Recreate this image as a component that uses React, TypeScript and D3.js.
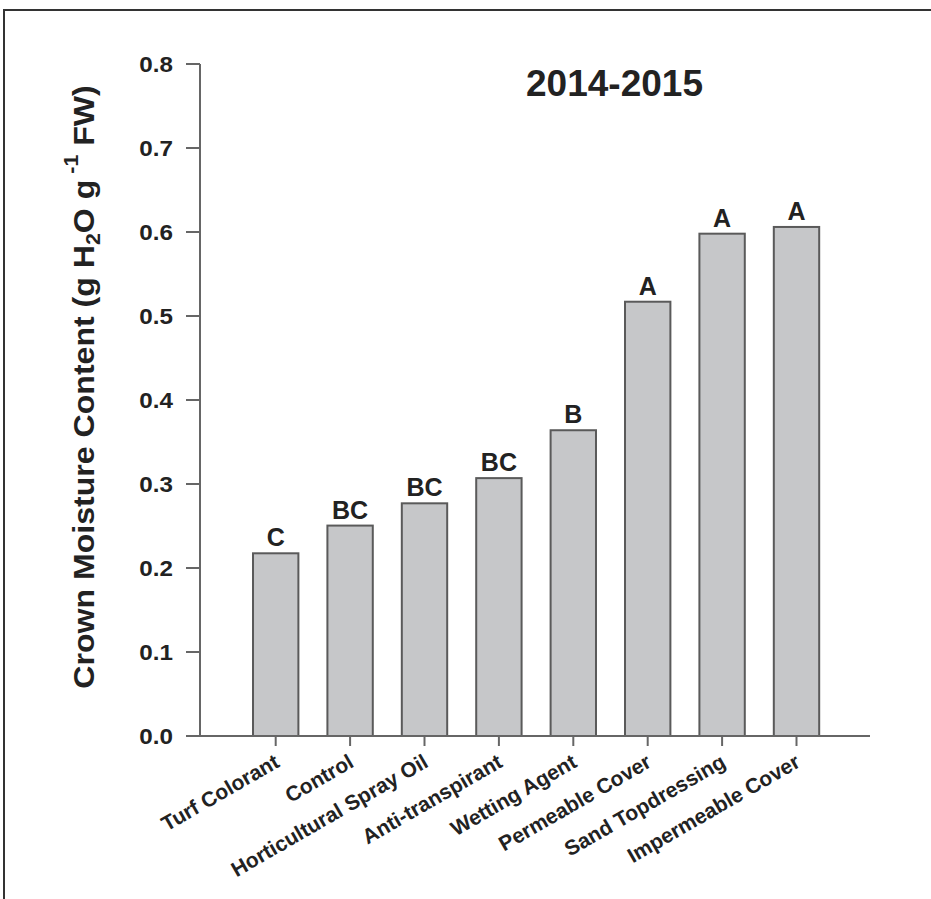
import React from "react";
import * as d3 from "d3";

const categories = [
  "Turf Colorant",
  "Control",
  "Horticultural Spray Oil",
  "Anti-transpirant",
  "Wetting Agent",
  "Permeable Cover",
  "Sand Topdressing",
  "Impermeable Cover",
];
const values = [0.2175, 0.2505, 0.277, 0.307, 0.364, 0.517, 0.598, 0.606];
const letters = ["C", "BC", "BC", "BC", "B", "A", "A", "A"];
const yTicks = [0.0, 0.1, 0.2, 0.3, 0.4, 0.5, 0.6, 0.7, 0.8];
const title = "2014-2015";

const W = 931;
const H = 899;
const FONT = "'Liberation Sans', Arial, Helvetica, sans-serif";
const TEXT = "#222";
const AXIS = "#666";

export default function App() {
  const y = d3.scaleLinear().domain([0, 0.8]).range([736, 64]);
  const x = d3
    .scaleBand<string>()
    .domain(categories)
    .range([238.5, 238.5 + 74.4 * categories.length])
    .paddingInner(0.39)
    .paddingOuter(0.195);
  const bw = x.bandwidth();
  const axisLeft = 200;
  const axisRight = 870;

  return (
    <svg
      width={W}
      height={H}
      style={{ position: "absolute", left: 0, top: 0, background: "#fff" }}
      fontFamily={FONT}
    >
      <rect x={0} y={0} width={W} height={H} fill="#fff" />
      {/* frame */}
      <path d={`M4,${H + 5} L4,10 L${W + 5},10`} fill="none" stroke="#333" strokeWidth={2} />

      {/* title */}
      <text x={614.5} y={96} textAnchor="middle" fontSize={37} fontWeight="bold" fill={TEXT}>
        {title}
      </text>

      {/* bars */}
      {categories.map((c, i) => (
        <g key={c}>
          <rect
            x={x(c)!}
            y={y(values[i])}
            width={bw}
            height={y(0) - y(values[i])}
            fill="#c6c7c9"
            stroke="#5a5a5a"
            strokeWidth={2}
          />
          <text
            x={x(c)! + bw / 2}
            y={y(values[i]) - 7}
            textAnchor="middle"
            fontSize={25}
            fontWeight="bold"
            fill={TEXT}
          >
            {letters[i]}
          </text>
        </g>
      ))}

      {/* y axis */}
      <line x1={axisLeft} x2={axisLeft} y1={y(0.8)} y2={y(0)} stroke={AXIS} strokeWidth={2} />
      {yTicks.map((t) => (
        <g key={t}>
          <line x1={186} x2={axisLeft} y1={y(t)} y2={y(t)} stroke={AXIS} strokeWidth={2} />
          <text
            transform={`translate(173,${y(t)}) scale(1.1,1)`}
            dy="0.36em"
            textAnchor="end"
            fontSize={22}
            fontWeight="bold"
            fill={TEXT}
          >
            {t.toFixed(1)}
          </text>
        </g>
      ))}

      {/* x axis */}
      <line x1={186} x2={axisRight} y1={y(0)} y2={y(0)} stroke={AXIS} strokeWidth={2} />
      {categories.map((c) => {
        const cx = x(c)! + bw / 2;
        return (
          <g key={c}>
            <line x1={cx} x2={cx} y1={y(0)} y2={y(0) + 10} stroke={AXIS} strokeWidth={2} />
            <text
              transform={`translate(${cx + 5},${y(0) + 30}) rotate(-30)`}
              textAnchor="end"
              fontSize={21}
              fontWeight="bold"
              fill={TEXT}
            >
              {c}
            </text>
          </g>
        );
      })}

      {/* y axis label */}
      <text
        transform={`translate(94,387) rotate(-90) scale(1.07,1)`}
        textAnchor="middle"
        fontSize={30}
        fontWeight="bold"
        fill={TEXT}
      >
        Crown Moisture Content (g H
        <tspan fontSize={20} dy={6}>2</tspan>
        <tspan dy={-6}>O g</tspan>
        <tspan fontSize={20} dy={-16}> -1</tspan>
        <tspan dy={16}> FW)</tspan>
      </text>
    </svg>
  );
}
